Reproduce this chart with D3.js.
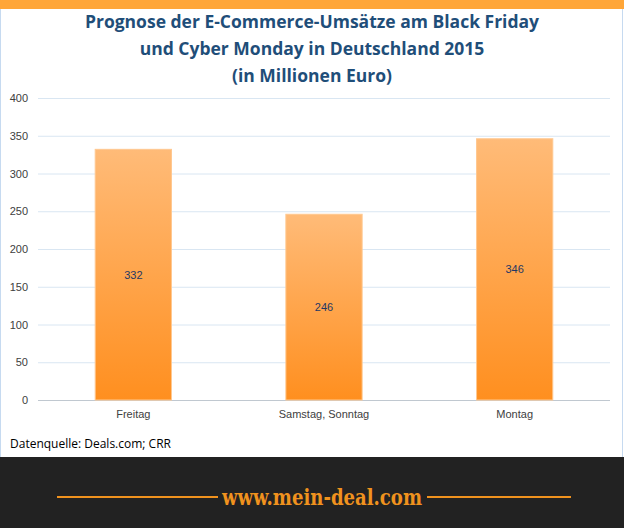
<!DOCTYPE html><html><head><meta charset="utf-8">
<script src="https://cdn.jsdelivr.net/npm/d3@7"></script>
<style>body{margin:0;background:#fff}</style></head><body>
<script>
const categories=["Freitag","Samstag, Sonntag","Montag"];
const values=[332,246,346];
const yTicks=[0,50,100,150,200,250,300,350,400];
const titleLines=["Prognose der E-Commerce-Umsätze  am Black Friday","und Cyber Monday in Deutschland  2015","(in Millionen  Euro)"];
const W=624,H=528;
const svg=d3.select("body").append("svg").attr("width",W).attr("height",H);
const defs=svg.append("defs");
const g=defs.append("linearGradient").attr("id","bg").attr("x1",0).attr("y1",0).attr("x2",0).attr("y2",1);
g.append("stop").attr("offset",0).attr("stop-color","#ffbb78");
g.append("stop").attr("offset",1).attr("stop-color","#ff8f1f");
svg.append("rect").attr("x",0).attr("y",0).attr("width",W).attr("height",H).attr("fill","#fff");
svg.append("rect").attr("x",0.5).attr("y",8).attr("width",W-2).attr("height",450).attr("fill","none").attr("stroke","#c6daf0");
svg.append("rect").attr("x",0).attr("y",0).attr("width",W).attr("height",9).attr("fill","#ffa638");
svg.append("g").selectAll("text").data(titleLines).join("text")
 .attr("x",312).attr("y",(d,i)=>28+i*27).attr("text-anchor","middle")
 .attr("font-family","Open Sans, sans-serif").attr("font-weight","bold").attr("font-size",17.5)
 .attr("fill","#1f4e79").text(d=>d);
const x=d3.scaleBand().domain(categories).range([38,610]).paddingInner(0.6).paddingOuter(0.3);
const y=d3.scaleLinear().domain([0,400]).range([400,98]);
const ga=svg.append("g");
ga.selectAll("line").data(yTicks).join("line").attr("x1",38).attr("x2",610)
 .attr("y1",d=>y(d)+0.5).attr("y2",d=>y(d)+0.5).attr("stroke",d=>d===0?"#c0c8d0":"#d9e6f2");
ga.selectAll("text").data(yTicks).join("text").attr("x",28).attr("y",d=>y(d)+4)
 .attr("text-anchor","end").attr("font-family","Liberation Sans, sans-serif").attr("font-size",11).attr("fill","#404040").text(d=>d);
svg.append("g").selectAll("rect").data(values).join("rect")
 .attr("x",(d,i)=>x(categories[i])).attr("width",x.bandwidth())
 .attr("y",d=>y(d)).attr("height",d=>y(0)-y(d)).attr("fill","url(#bg)")
 .attr("stroke","#ffc890").attr("stroke-width",1);
svg.append("g").selectAll("text").data(values).join("text")
 .attr("x",(d,i)=>x(categories[i])+x.bandwidth()/2).attr("y",d=>(y(d)+y(0))/2+4)
 .attr("text-anchor","middle").attr("font-family","Liberation Sans, sans-serif").attr("font-size",11).attr("fill","#1f3864").text(d=>d);
svg.append("g").selectAll("text").data(categories).join("text")
 .attr("x",d=>x(d)+x.bandwidth()/2).attr("y",418).attr("text-anchor","middle")
 .attr("font-family","Liberation Sans, sans-serif").attr("font-size",11).attr("fill","#404040").text(d=>d);
svg.append("text").attr("x",10).attr("y",448).attr("font-family","Open Sans, sans-serif").attr("font-size",12).attr("fill","#000").text("Datenquelle: Deals.com; CRR");
svg.append("rect").attr("x",0).attr("y",457).attr("width",W).attr("height",71).attr("fill","#222");
svg.append("line").attr("x1",57).attr("x2",218).attr("y1",497).attr("y2",497).attr("stroke","#f0921e").attr("stroke-width",2);
svg.append("line").attr("x1",427).attr("x2",571).attr("y1",497).attr("y2",497).attr("stroke","#f0921e").attr("stroke-width",2);
svg.append("text").attr("x",322).attr("y",505).attr("text-anchor","middle").attr("font-family","DejaVu Serif Condensed, DejaVu Serif, serif")
 .attr("font-weight","bold").attr("font-size",22).attr("textLength",200).attr("lengthAdjust","spacingAndGlyphs").attr("fill","#f0921e").text("www.mein-deal.com");
</script></body></html>
